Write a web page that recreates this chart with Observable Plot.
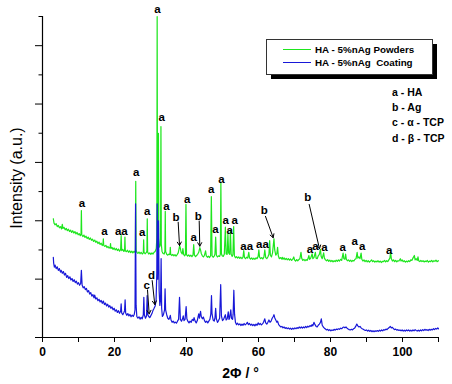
<!DOCTYPE html>
<html><head><meta charset="utf-8">
<script src="https://cdn.jsdelivr.net/npm/d3@7"></script>
<script src="https://cdn.jsdelivr.net/npm/@observablehq/plot@0.6"></script>
<style>html,body{margin:0;padding:0;background:#fff;overflow:hidden;} svg{overflow:hidden;display:block;}</style>
</head><body><div id="chart"></div>
<script>
// XRD pattern, HA - 5%nAg powders (green) : [2θ, intensity]
const powders = [[3.0,4.07],[3.2,3.92],[3.5,3.86],[3.8,3.90],[4.1,3.80],[4.4,3.84],[4.7,3.76],[5.0,3.80],[5.3,3.72],[5.5,3.88],[5.7,3.74],[6.0,3.77],[6.3,3.69],[6.6,3.74],[6.9,3.66],[7.2,3.71],[7.5,3.63],[7.8,3.68],[8.1,3.60],[8.4,3.66],[8.7,3.58],[9.0,3.63],[9.3,3.55],[9.6,3.60],[9.9,3.52],[10.2,3.56],[10.5,3.49],[10.7,3.55],[10.8,4.35],[10.9,3.52],[11.2,3.46],[11.5,3.51],[11.8,3.43],[12.1,3.47],[12.4,3.39],[12.7,3.44],[13.0,3.36],[13.3,3.41],[13.6,3.33],[13.9,3.37],[14.2,3.29],[14.5,3.34],[14.8,3.26],[15.1,3.30],[15.4,3.22],[15.7,3.27],[16.0,3.19],[16.3,3.23],[16.6,3.15],[16.8,3.20],[16.9,3.38],[17.0,3.16],[17.3,3.12],[17.6,3.16],[17.9,3.08],[18.2,3.12],[18.5,3.06],[18.8,3.10],[18.9,3.22],[19.0,3.05],[19.3,3.09],[19.6,3.02],[19.9,3.07],[20.2,3.00],[20.5,3.05],[20.8,2.98],[21.1,3.03],[21.4,2.96],[21.7,3.01],[21.85,3.49],[22.0,2.98],[22.3,3.02],[22.6,2.95],[22.8,3.00],[22.9,3.44],[23.0,2.97],[23.3,2.94],[23.6,2.99],[23.9,2.92],[24.2,2.97],[24.5,2.91],[24.8,2.96],[25.1,2.90],[25.4,2.95],[25.7,2.92],[25.8,3.0],[25.9,5.35],[26.0,3.0],[26.2,2.92],[26.5,2.88],[26.8,2.93],[27.1,2.87],[27.4,2.92],[27.7,2.86],[28.0,2.90],[28.1,3.35],[28.2,2.92],[28.5,2.87],[28.8,2.91],[29.0,2.95],[29.1,4.07],[29.2,2.93],[29.5,2.86],[29.8,2.90],[30.1,2.85],[30.4,2.90],[30.7,2.86],[31.0,2.92],[31.3,2.95],[31.6,3.05],[31.75,3.4],[31.85,11.0],[31.95,3.6],[32.1,3.3],[32.2,7.0],[32.3,3.4],[32.5,3.1],[32.8,3.2],[32.9,7.23],[33.0,3.2],[33.2,2.95],[33.5,2.88],[33.8,2.86],[34.0,2.95],[34.1,4.32],[34.2,2.95],[34.5,2.85],[34.8,2.82],[35.1,2.86],[35.4,2.84],[35.5,3.09],[35.6,2.86],[35.9,2.81],[36.2,2.85],[36.5,2.80],[36.8,2.84],[37.1,2.79],[37.4,2.84],[37.7,2.90],[37.9,3.02],[38.1,3.15],[38.3,3.05],[38.5,2.92],[38.8,2.86],[39.0,3.05],[39.2,2.85],[39.5,2.80],[39.7,2.84],[39.85,4.56],[40.0,2.84],[40.3,2.79],[40.6,2.83],[40.9,2.78],[41.2,2.82],[41.5,2.77],[41.8,2.82],[42.0,3.18],[42.2,2.82],[42.5,2.77],[42.8,2.81],[43.1,2.85],[43.4,2.92],[43.7,3.08],[43.9,3.0],[44.1,2.88],[44.4,2.80],[44.7,2.76],[45.0,2.82],[45.3,2.97],[45.5,2.80],[45.8,2.75],[46.1,2.79],[46.4,2.74],[46.7,2.80],[46.9,4.83],[47.1,2.80],[47.4,2.75],[47.7,2.79],[47.9,2.85],[48.1,3.44],[48.3,2.82],[48.6,2.76],[48.9,2.80],[49.2,2.78],[49.4,2.85],[49.55,5.29],[49.7,2.88],[49.9,2.80],[50.2,2.78],[50.5,2.85],[50.8,3.78],[51.0,2.86],[51.3,2.85],[51.5,3.55],[51.7,2.90],[52.0,2.85],[52.2,3.67],[52.4,2.85],[52.7,2.78],[52.9,2.85],[53.1,3.80],[53.3,2.80],[53.6,2.73],[53.9,2.77],[54.2,2.72],[54.5,2.76],[54.8,2.71],[55.1,2.75],[55.4,2.70],[55.7,2.76],[55.9,2.98],[56.1,2.74],[56.4,2.70],[56.7,2.75],[57.0,2.72],[57.3,2.92],[57.5,2.73],[57.8,2.69],[58.1,2.73],[58.4,2.68],[58.7,2.72],[59.0,2.68],[59.3,2.73],[59.6,2.70],[59.9,2.78],[60.1,3.0],[60.3,2.75],[60.6,2.70],[60.9,2.74],[61.2,2.69],[61.5,2.76],[61.75,3.0],[62.0,2.74],[62.3,2.70],[62.6,2.76],[62.9,2.85],[63.1,3.32],[63.3,2.82],[63.6,2.76],[63.9,2.90],[64.1,3.15],[64.3,3.38],[64.5,3.0],[64.8,2.82],[65.1,2.88],[65.3,3.09],[65.5,2.80],[65.8,2.70],[66.1,2.74],[66.4,2.69],[66.6,2.75],[66.8,2.68],[67.1,2.73],[67.4,2.67],[67.7,2.71],[68.0,2.66],[68.3,2.70],[68.6,2.65],[68.9,2.69],[69.2,2.64],[69.5,2.68],[69.8,2.76],[70.0,2.66],[70.3,2.62],[70.6,2.67],[70.9,2.63],[71.2,2.67],[71.5,2.70],[71.8,2.92],[72.0,2.72],[72.3,2.64],[72.6,2.68],[72.9,2.63],[73.2,2.67],[73.5,2.64],[73.8,2.72],[74.0,2.81],[74.2,2.68],[74.5,2.72],[74.9,2.87],[75.1,2.70],[75.4,2.74],[75.8,2.92],[76.0,2.72],[76.3,2.70],[76.6,2.80],[76.9,2.85],[77.2,3.02],[77.4,2.78],[77.7,2.70],[78.1,2.90],[78.3,2.72],[78.6,2.66],[78.9,2.63],[79.2,2.67],[79.5,2.61],[79.8,2.65],[80.1,2.60],[80.4,2.64],[80.7,2.59],[81.0,2.63],[81.3,2.60],[81.6,2.65],[81.9,2.61],[82.2,2.66],[82.5,2.62],[82.8,2.68],[83.1,2.64],[83.5,2.89],[83.7,2.70],[84.0,2.68],[84.2,2.86],[84.4,2.68],[84.7,2.63],[85.0,2.66],[85.3,2.61],[85.6,2.65],[85.9,2.60],[86.2,2.64],[86.5,2.62],[86.8,2.68],[87.1,2.70],[87.4,2.92],[87.6,2.72],[87.9,2.76],[88.2,2.70],[88.5,2.89],[88.7,2.68],[89.0,2.62],[89.3,2.66],[89.6,2.60],[89.9,2.64],[90.2,2.59],[90.5,2.63],[90.8,2.58],[91.1,2.62],[91.4,2.66],[91.7,2.60],[92.0,2.63],[92.3,2.58],[92.6,2.62],[92.9,2.59],[93.2,2.63],[93.5,2.58],[93.8,2.62],[94.1,2.57],[94.4,2.61],[94.7,2.60],[95.0,2.64],[95.3,2.59],[95.6,2.63],[95.9,2.60],[96.2,2.66],[96.5,2.72],[96.7,2.92],[96.9,2.70],[97.2,2.62],[97.5,2.66],[97.8,2.60],[98.1,2.64],[98.4,2.59],[98.7,2.63],[99.0,2.62],[99.4,2.70],[99.6,2.62],[99.9,2.66],[100.2,2.60],[100.5,2.63],[100.8,2.58],[101.1,2.62],[101.4,2.59],[101.7,2.63],[102.0,2.60],[102.3,2.66],[102.6,2.64],[102.9,2.72],[103.3,2.81],[103.5,2.66],[103.8,2.70],[104.1,2.64],[104.3,2.76],[104.5,2.63],[104.8,2.60],[105.1,2.64],[105.4,2.60],[105.7,2.63],[106.0,2.59],[106.3,2.62],[106.6,2.60],[106.9,2.64],[107.2,2.58],[107.5,2.62],[107.8,2.60],[108.1,2.64],[108.4,2.59],[108.7,2.63],[109.0,2.61],[109.3,2.65],[109.6,2.60],[110.0,2.63]];

// XRD pattern, HA - 5%nAg coating (blue) : [2θ, intensity]
const coating = [[3.0,2.75],[3.1,2.55],[3.3,2.41],[3.5,2.48],[3.8,2.36],[4.1,2.42],[4.4,2.30],[4.7,2.36],[5.0,2.24],[5.2,2.30],[5.5,2.20],[5.8,2.26],[6.1,2.14],[6.4,2.20],[6.7,2.06],[7.0,2.12],[7.3,2.02],[7.6,2.08],[7.9,1.97],[8.2,2.02],[8.5,1.92],[8.8,1.98],[9.1,1.88],[9.4,1.93],[9.7,1.83],[10.0,1.88],[10.3,1.79],[10.6,1.85],[10.8,2.30],[11.0,1.80],[11.3,1.70],[11.6,1.74],[11.9,1.64],[12.2,1.68],[12.5,1.56],[12.8,1.61],[13.1,1.49],[13.4,1.54],[13.7,1.42],[14.0,1.47],[14.3,1.36],[14.5,1.45],[14.8,1.32],[15.1,1.36],[15.4,1.26],[15.7,1.31],[16.0,1.22],[16.3,1.27],[16.6,1.17],[16.9,1.25],[17.2,1.13],[17.5,1.18],[17.8,1.08],[18.1,1.14],[18.4,1.04],[18.7,1.09],[19.0,1.00],[19.3,1.05],[19.6,0.95],[19.9,1.00],[20.2,0.90],[20.5,0.95],[20.8,0.86],[21.1,0.92],[21.4,0.83],[21.7,0.90],[21.85,1.15],[22.0,0.84],[22.3,0.78],[22.6,0.86],[22.8,0.92],[22.95,1.29],[23.1,0.84],[23.4,0.76],[23.7,0.82],[24.0,0.74],[24.3,0.79],[24.6,0.71],[24.9,0.77],[25.2,0.72],[25.5,0.80],[25.7,0.95],[25.85,4.58],[26.0,1.1],[26.2,0.72],[26.5,0.66],[26.8,0.71],[27.1,0.63],[27.4,0.69],[27.7,0.64],[28.0,0.78],[28.15,1.38],[28.3,0.78],[28.6,0.66],[28.9,0.74],[29.07,1.44],[29.2,0.80],[29.5,0.72],[29.8,0.68],[30.1,0.75],[30.4,0.82],[30.7,0.93],[31.0,1.0],[31.3,1.08],[31.55,1.27],[31.75,2.2],[31.85,4.58],[32.0,2.0],[32.2,4.0],[32.4,1.6],[32.6,1.1],[32.8,1.3],[32.95,2.70],[33.1,1.0],[33.3,0.72],[33.6,0.78],[33.9,0.95],[34.05,1.67],[34.2,0.95],[34.5,0.78],[34.8,0.66],[35.1,0.62],[35.4,0.70],[35.5,0.76],[35.7,0.60],[36.0,0.52],[36.3,0.56],[36.6,0.50],[36.9,0.53],[37.2,0.49],[37.5,0.56],[37.8,0.62],[38.06,1.38],[38.3,0.62],[38.6,0.56],[38.9,0.64],[39.1,0.74],[39.3,0.58],[39.6,0.62],[39.9,1.06],[40.1,0.64],[40.4,0.55],[40.7,0.50],[41.0,0.56],[41.3,0.52],[41.6,0.62],[41.9,0.58],[42.1,0.68],[42.4,0.56],[42.7,0.50],[43.0,0.58],[43.2,0.70],[43.4,0.81],[43.6,0.66],[43.9,0.90],[44.1,0.72],[44.4,0.64],[44.7,0.70],[45.0,0.58],[45.3,0.52],[45.6,0.56],[45.9,0.50],[46.2,0.56],[46.5,0.62],[46.75,0.80],[46.94,1.44],[47.1,0.80],[47.4,0.60],[47.7,0.56],[47.9,0.66],[48.1,1.0],[48.3,0.64],[48.6,0.52],[48.9,0.58],[49.2,0.66],[49.5,1.81],[49.7,0.74],[50.0,0.58],[50.3,0.62],[50.55,0.70],[50.8,0.78],[51.0,0.60],[51.3,0.64],[51.6,0.88],[51.8,0.62],[52.0,0.68],[52.3,0.95],[52.5,0.66],[52.8,0.62],[52.95,0.80],[53.15,1.62],[53.35,0.80],[53.6,0.52],[53.9,0.44],[54.2,0.49],[54.5,0.43],[54.8,0.47],[55.1,0.41],[55.4,0.46],[55.7,0.42],[56.0,0.48],[56.3,0.43],[56.6,0.47],[56.9,0.52],[57.2,0.44],[57.5,0.48],[57.8,0.42],[58.1,0.46],[58.4,0.41],[58.7,0.45],[59.0,0.40],[59.3,0.46],[59.6,0.42],[59.9,0.50],[60.2,0.44],[60.5,0.48],[60.8,0.43],[61.1,0.47],[61.4,0.52],[61.75,0.64],[62.0,0.50],[62.3,0.46],[62.6,0.52],[62.9,0.60],[63.2,0.52],[63.5,0.56],[63.8,0.66],[64.1,0.72],[64.3,0.78],[64.5,0.68],[64.8,0.60],[65.1,0.52],[65.3,0.56],[65.6,0.44],[65.9,0.40],[66.2,0.36],[66.5,0.38],[66.8,0.33],[67.1,0.36],[67.4,0.31],[67.7,0.34],[68.0,0.30],[68.3,0.33],[68.6,0.29],[68.9,0.32],[69.2,0.28],[69.5,0.32],[69.8,0.29],[70.1,0.33],[70.4,0.30],[70.7,0.34],[71.0,0.31],[71.3,0.36],[71.6,0.32],[71.9,0.36],[72.2,0.32],[72.5,0.36],[72.8,0.33],[73.1,0.38],[73.4,0.34],[73.7,0.39],[74.0,0.36],[74.3,0.41],[74.6,0.38],[74.9,0.44],[75.1,0.40],[75.4,0.52],[75.7,0.44],[76.0,0.38],[76.3,0.36],[76.6,0.42],[76.9,0.46],[77.2,0.52],[77.45,0.64],[77.7,0.42],[78.0,0.36],[78.3,0.32],[78.6,0.29],[78.9,0.26],[79.2,0.28],[79.5,0.24],[79.8,0.27],[80.1,0.23],[80.4,0.26],[80.7,0.24],[81.0,0.28],[81.3,0.25],[81.6,0.29],[81.9,0.27],[82.2,0.30],[82.5,0.28],[82.8,0.32],[83.1,0.30],[83.4,0.34],[83.7,0.36],[84.0,0.33],[84.3,0.36],[84.6,0.32],[84.9,0.29],[85.2,0.27],[85.5,0.26],[85.8,0.28],[86.1,0.26],[86.4,0.30],[86.7,0.32],[87.0,0.38],[87.3,0.46],[87.6,0.40],[87.9,0.36],[88.2,0.38],[88.5,0.33],[88.8,0.30],[89.1,0.28],[89.4,0.26],[89.7,0.24],[90.0,0.26],[90.3,0.22],[90.6,0.25],[90.9,0.21],[91.2,0.24],[91.5,0.20],[91.8,0.23],[92.1,0.20],[92.4,0.23],[92.7,0.21],[93.0,0.24],[93.3,0.21],[93.6,0.25],[93.9,0.22],[94.2,0.26],[94.5,0.23],[94.8,0.27],[95.1,0.25],[95.4,0.29],[95.7,0.27],[96.0,0.31],[96.3,0.34],[96.6,0.38],[96.9,0.33],[97.2,0.35],[97.5,0.30],[97.8,0.27],[98.1,0.29],[98.4,0.25],[98.7,0.27],[99.0,0.24],[99.3,0.26],[99.6,0.23],[99.9,0.26],[100.2,0.22],[100.5,0.25],[100.8,0.22],[101.1,0.26],[101.4,0.23],[101.7,0.26],[102.0,0.22],[102.3,0.25],[102.6,0.22],[102.9,0.26],[103.2,0.23],[103.5,0.27],[103.8,0.24],[104.1,0.22],[104.4,0.25],[104.7,0.22],[105.0,0.26],[105.3,0.23],[105.6,0.27],[105.9,0.24],[106.2,0.28],[106.5,0.25],[106.8,0.27],[107.1,0.24],[107.4,0.28],[107.7,0.25],[108.0,0.28],[108.3,0.26],[108.6,0.30],[108.9,0.27],[109.2,0.31],[109.5,0.29],[109.8,0.33],[110.0,0.30]];

const xMajorTicks = [0, 20, 40, 60, 80, 100];
const xMinorTicks = [10, 30, 50, 70, 90, 110];
const yMajorTicks = [0, 2, 4, 6, 8, 10];
const yMinorTicks = [1, 3, 5, 7, 9, 11];
const seriesNames = ["HA - 5%nAg Powders", "HA - 5%nAg  Coating"];
const seriesColors = ["#1ee61e", "#1818d8"];
// peak annotations: [2θ, intensity, text]
const peakLabels = [[31.94,11.24,"a"],[33.14,7.55,"a"],[26.0,5.66,"a"],[10.93,4.60,"a"],[17.2,3.64,"a"],[21.9,3.63,"aa"],[27.7,3.59,"a"],[29.07,4.33,"a"],[34.4,4.50,"a"],[37.1,4.11,"b"],[40.2,4.75,"a"],[42.0,3.44,"a"],[43.3,4.15,"b"],[46.85,5.08,"a"],[48.06,3.72,"a"],[49.72,5.41,"a"],[50.9,4.01,"a"],[52.0,3.69,"a"],[53.4,4.01,"a"],[56.7,3.12,"aa"],[61.1,3.21,"aa"],[61.6,4.35,"b"],[74.26,3.01,"a"],[75.8,3.13,"a"],[78.3,3.09,"a"],[73.7,4.80,"b"],[83.4,3.09,"a"],[86.75,3.29,"a"],[88.8,3.13,"a"],[96.3,3.0,"a"],[28.97,1.78,"c"],[30.28,2.12,"d"]];
// annotation arrows: [2θ start, intensity start, 2θ end, intensity end]
const arrows = [[37.69,3.95,38.06,3.15],[43.53,3.99,43.69,3.13],[61.94,4.15,64.08,3.42],[74.08,4.56,76.94,3.04],[29.17,1.63,29.64,0.81],[30.47,1.95,31.19,1.13]];
const phaseKey = ["a - HA", "b - Ag", "c - α - TCP", "d - β - TCP"];
const xTitle = "2Φ / °";
const yTitle = "Intensity (a.u.)";

const FONT = "'Liberation Sans', Arial, Helvetica, sans-serif";

const chart = Plot.plot({
  width: 452, height: 384,
  marginTop: 16, marginRight: 14, marginBottom: 47, marginLeft: 42,
  style: {fontFamily: FONT, background: "#fff", overflow: "hidden"},
  x: {domain: [0, 110]},
  y: {domain: [0, 11]},
  marks: [
    Plot.line(powders, {x: d => d[0], y: d => d[1], stroke: seriesColors[0], strokeWidth: 1.2}),
    Plot.line(coating, {x: d => d[0], y: d => d[1], stroke: seriesColors[1], strokeWidth: 1.2}),
    Plot.ruleX([0], {y1: 0, y2: 11, stroke: "#000", strokeWidth: 1.2}),
    Plot.ruleY([0], {stroke: "#000", strokeWidth: 1.2}),
    Plot.axisX({ticks: xMajorTicks, tickSize: 5, tickPadding: 5, fontSize: 12, fontWeight: "bold", label: null}),
    Plot.axisX({ticks: xMinorTicks, tickSize: 5, tickFormat: () => "", label: null}),
    Plot.axisY({ticks: yMajorTicks, tickSize: 7, tickFormat: () => "", label: null}),
    Plot.axisY({ticks: yMinorTicks, tickSize: 3.5, tickFormat: () => "", label: null}),
    Plot.arrow(arrows, {x1: d => d[0], y1: d => d[1], x2: d => d[2], y2: d => d[3], stroke: "#000", strokeWidth: 1, headLength: 6}),
    Plot.text(peakLabels, {x: d => d[0], y: d => d[1], text: d => d[2], fontSize: 11.5, fontWeight: "bold", fill: "#000", letterSpacing: "-0.5px"}),
    Plot.text([xTitle], {frameAnchor: "bottom", dy: 40, fontSize: 14, fontWeight: "bold", fill: "#000"})
  ]
});

const svg = d3.select(chart);
// y-axis title
svg.append("text")
  .attr("transform", "translate(16,178) rotate(-90)")
  .attr("text-anchor", "middle").attr("dy", "0.35em")
  .attr("font-family", FONT).attr("font-size", 16).attr("fill", "#000")
  .text(yTitle);

const g = svg.append("g").attr("font-family", FONT).attr("font-weight", "bold").attr("text-anchor", "start");
// legend box with drop shadow
g.append("rect").attr("x", 271).attr("y", 44).attr("width", 166).attr("height", 35).attr("fill", "#000");
g.append("rect").attr("x", 266.5).attr("y", 39.5).attr("width", 166).attr("height", 35).attr("fill", "#fff").attr("stroke", "#333").attr("stroke-width", 1);
seriesNames.forEach((name, i) => {
  const y = 49.5 + i * 13;
  g.append("line").attr("x1", 283).attr("x2", 311).attr("y1", y).attr("y2", y).attr("stroke", seriesColors[i]).attr("stroke-width", 1);
  g.append("text").attr("x", 315).attr("y", y).attr("dy", "0.35em").attr("font-size", 9.8).attr("fill", "#000").attr("text-anchor", "start").style("white-space", "pre").text(name);
});
phaseKey.forEach((t, i) => {
  g.append("text").attr("x", 392).attr("y", 92 + i * 15.3).attr("dy", "0.35em").attr("font-size", 10.5).attr("fill", "#000").attr("text-anchor", "start").text(t);
});

document.getElementById("chart").appendChild(chart);
</script>
</body></html>
